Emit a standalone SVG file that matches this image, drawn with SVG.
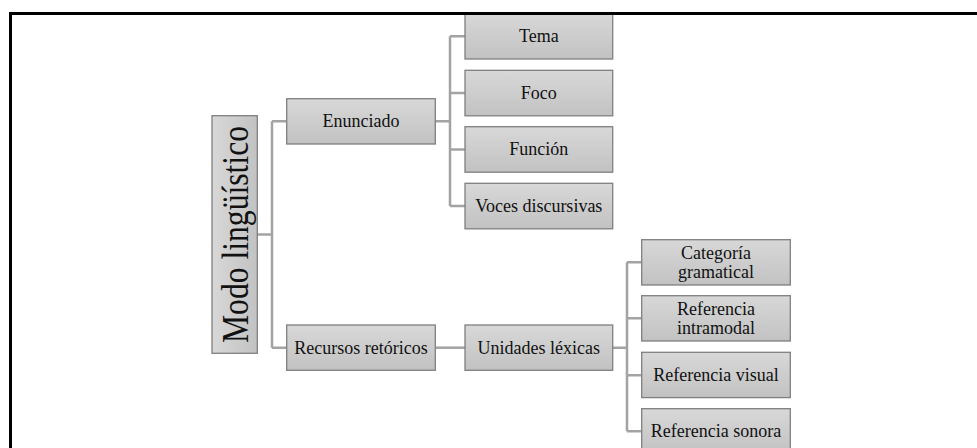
<svg xmlns="http://www.w3.org/2000/svg" width="977" height="448" viewBox="0 0 977 448">
<defs>
<linearGradient id="g" x1="0" y1="0" x2="0" y2="1">
<stop offset="0" stop-color="#d8d8d8"/>
<stop offset="1" stop-color="#c2c2c2"/>
</linearGradient>
<linearGradient id="gv" x1="0" y1="0" x2="1" y2="0">
<stop offset="0" stop-color="#d8d8d8"/>
<stop offset="1" stop-color="#c2c2c2"/>
</linearGradient>
</defs>
<style>
.box{fill:url(#g);stroke:#7f7f7f;stroke-width:1.3}
.t{font-family:"Liberation Serif","Times New Roman",serif;font-size:18px;fill:#111;text-anchor:middle}
.c{fill:none;stroke:#a3a3a3;stroke-width:2.5}
</style>
<rect width="977" height="448" fill="#fff"/>
<g id="connectors">
<path class="c" d="M257.3 234.5H272M272 121.3V347.7M272 121.3H286.7M272 347.7H286.7"/>
<path class="c" d="M435.3 121.3H450M450 36.2V206M450 36.2H465M450 93H465M450 149.4H465M450 206H465"/>
<path class="c" d="M435.3 347.7H465"/>
<path class="c" d="M612.7 347.7H627M627 262.3V431.3M627 262.3H641.7M627 318.3H641.7M627 375.3H641.7M627 431.3H641.7"/>
</g>
<g id="modo">
<rect class="box" style="fill:url(#gv)" x="212" y="115.7" width="45.3" height="237.6"/>
<text class="t" transform="translate(247.5,234.5) rotate(-90)" x="0" y="0" style="font-size:38px" textLength="217" lengthAdjust="spacingAndGlyphs">Modo lingüístico</text>
</g>
<g id="enunciado">
<rect class="box" x="286.7" y="98.7" width="148.6" height="45.3"/>
<text class="t" x="361" y="127.3">Enunciado</text>
</g>
<g id="recursos">
<rect class="box" x="286.7" y="325" width="148.6" height="45.3"/>
<text class="t" x="361" y="353.7">Recursos retóricos</text>
</g>
<g id="tema">
<rect class="box" x="465" y="13.5" width="147.7" height="45.5"/>
<text class="t" x="538.8" y="42.2">Tema</text>
</g>
<g id="foco">
<rect class="box" x="465" y="70.3" width="147.7" height="45.5"/>
<text class="t" x="538.8" y="99">Foco</text>
</g>
<g id="funcion">
<rect class="box" x="465" y="126.7" width="147.7" height="45.5"/>
<text class="t" x="538.8" y="155.4">Función</text>
</g>
<g id="voces">
<rect class="box" x="465" y="183.3" width="147.7" height="45.5"/>
<text class="t" x="538.8" y="212">Voces discursivas</text>
</g>
<g id="unidades">
<rect class="box" x="465" y="325" width="147.7" height="45.3"/>
<text class="t" x="538.8" y="353.7">Unidades léxicas</text>
</g>
<g id="categoria">
<rect class="box" x="641.7" y="239.7" width="148.6" height="45.3"/>
<text class="t" x="716" y="259">Categoría</text>
<text class="t" x="716" y="277.7">gramatical</text>
</g>
<g id="intramodal">
<rect class="box" x="641.7" y="295.7" width="148.6" height="45.3"/>
<text class="t" x="716" y="315">Referencia</text>
<text class="t" x="716" y="333.7">intramodal</text>
</g>
<g id="visual">
<rect class="box" x="641.7" y="352.3" width="148.6" height="45.3"/>
<text class="t" x="716" y="381">Referencia visual</text>
</g>
<g id="sonora">
<rect class="box" x="641.7" y="408.7" width="148.6" height="45.3"/>
<text class="t" x="716" y="437.4">Referencia sonora</text>
</g>
<g id="frame">
<path d="M10.5 448V13.5H977" fill="none" stroke="#000" stroke-width="3"/>
</g>
</svg>
